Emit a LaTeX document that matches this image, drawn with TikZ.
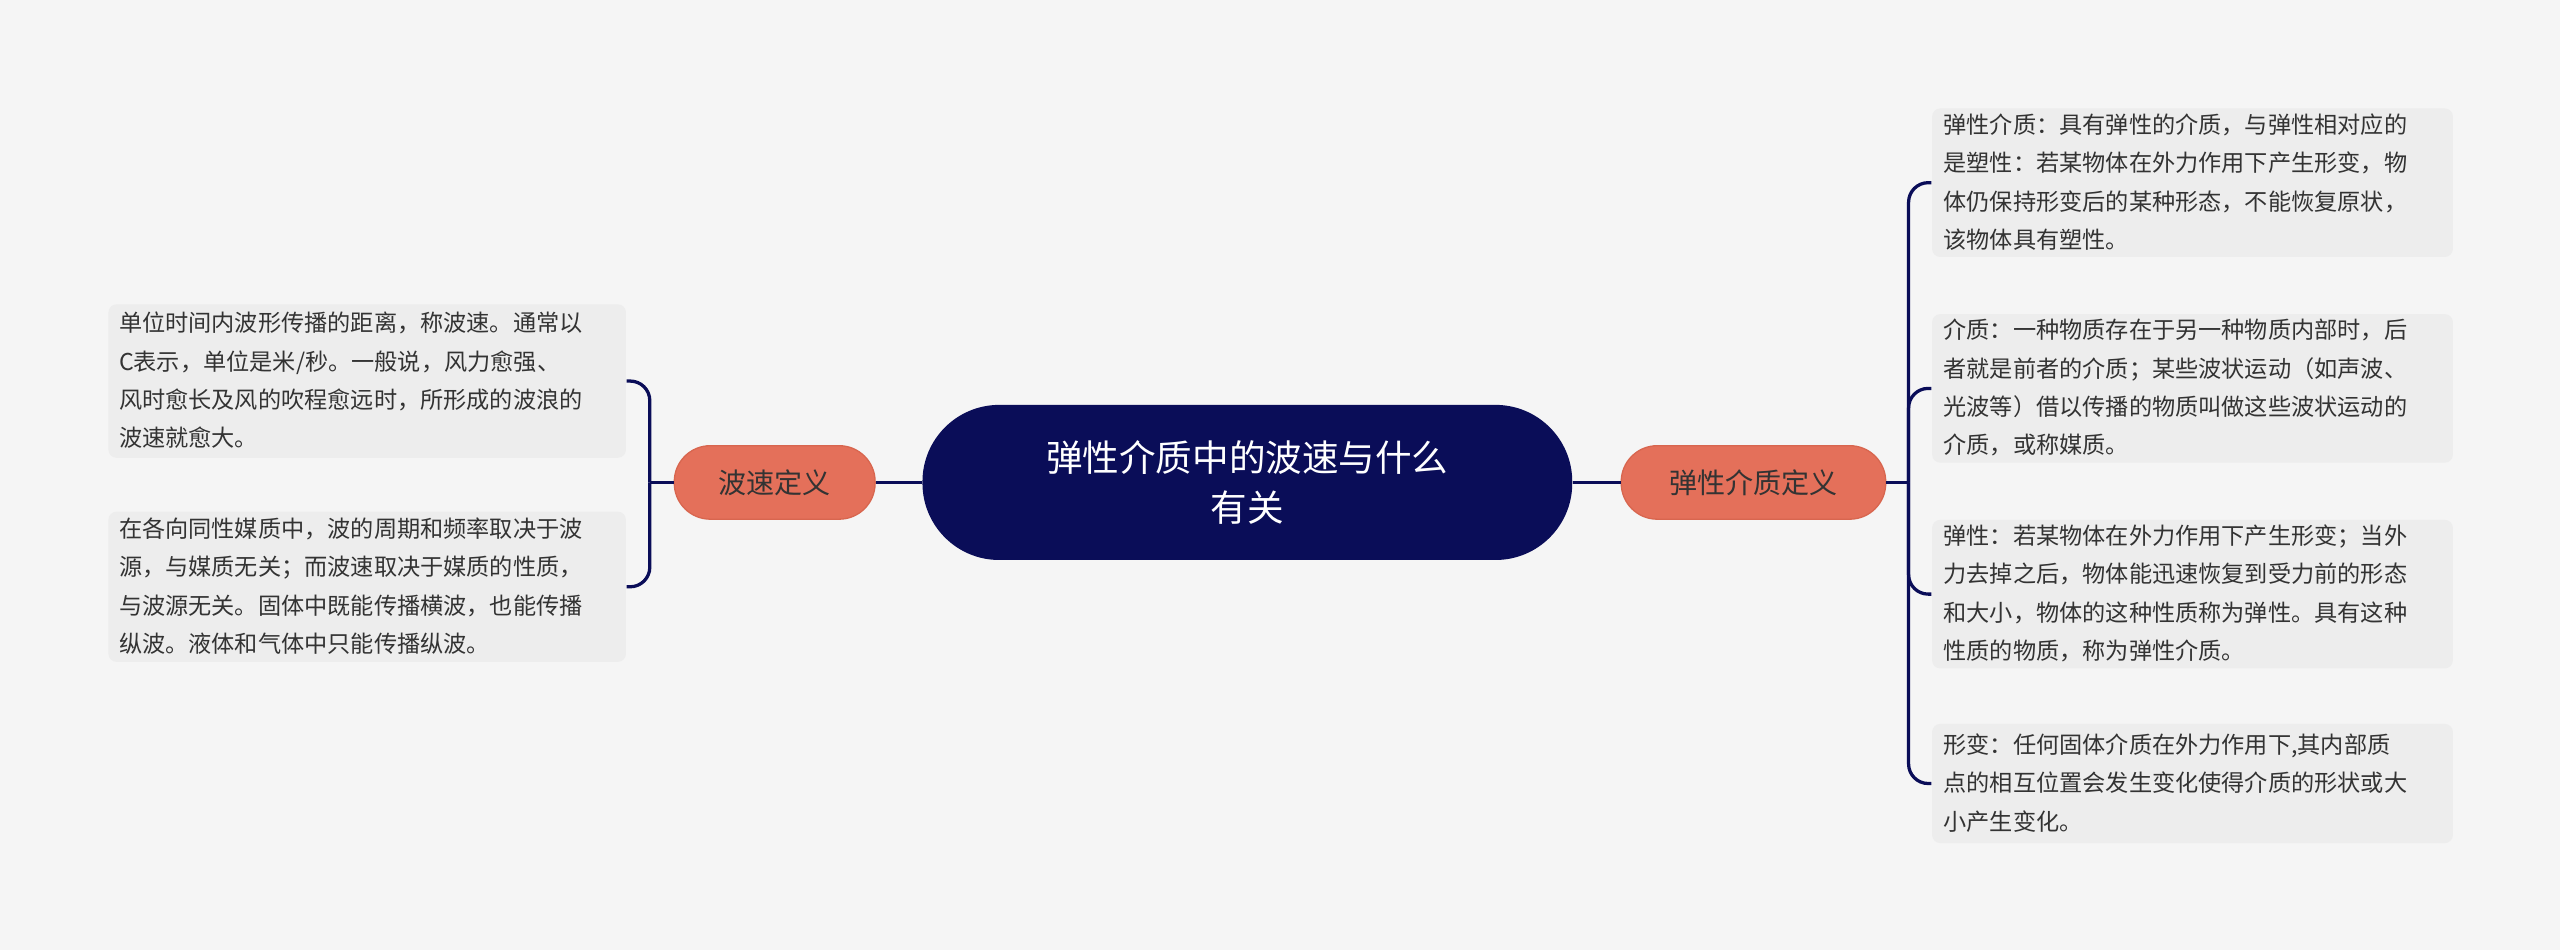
\documentclass[tikz,border=0pt]{standalone}
\usepackage{fontspec}
\setmainfont{Noto Sans CJK SC}
\begin{document}
\begin{tikzpicture}[x=0.5pt,y=-0.5pt,
  leaf/.style={fill=leafc,rounded corners=2.5pt,anchor=north west,align=left,inner sep=0pt,
     font=\fontsize{7.1pt}{11.75pt}\selectfont,text=txt},
  child/.style={fill=childc,draw=childb,line width=0.4pt,rounded corners=11pt,minimum height=22.5pt,font=\fontsize{8.6pt}{10pt}\selectfont,text=txt},
  conn/.style={draw=navy,line width=1pt,rounded corners=6pt}]
\definecolor{bg}{HTML}{F5F5F5}
\definecolor{leafc}{HTML}{EDEDED}
\definecolor{childc}{HTML}{E4705A}
\definecolor{childb}{HTML}{D8664F}
\definecolor{navy}{HTML}{0A0D58}
\definecolor{txt}{HTML}{333333}
\fill[bg] (0,0) rectangle (1568,582);
\useasboundingbox (0,0) rectangle (1568,582);
\node[fill=navy,rounded corners=23.5pt,minimum width=199pt,minimum height=47.5pt,text=white,align=center,
  font=\fontsize{11.2pt}{15.5pt}\selectfont] (c) at (764,295.5) {弹性介质中的波速与什么\\有关};
\node[child,minimum width=61.5pt] (l) at (474.5,295.5) {波速定义};
\node[child,minimum width=81pt] (r) at (1074,295.5) {弹性介质定义};
\draw[conn] (c.west) -- (l.east);
\draw[conn] (c.east) -- (r.east -| r.west);
% left leaves
\node[leaf,minimum width=158.5pt,minimum height=47pt,text width=148.5pt] (l1) at (66,186) {};
\node[leaf,anchor=west,fill=none] at (72.5,233) {单位时间内波形传播的距离，称波速。通常以\\C表示，单位是米/秒。一般说，风力愈强、\\风时愈长及风的吹程愈远时，所形成的波浪的\\波速就愈大。};
\node[leaf,minimum width=158.5pt,minimum height=46pt] (l2) at (66,313) {};
\node[leaf,anchor=west,fill=none] at (72.5,359) {在各向同性媒质中，波的周期和频率取决于波\\源，与媒质无关；而波速取决于媒质的性质，\\与波源无关。固体中既能传播横波，也能传播\\纵波。液体和气体中只能传播纵波。};
\coordinate (lj) at (398,295.5);
\draw[conn] (l.west) -- (lj);
\draw[conn] (lj) |- (l1.east);
\draw[conn] (lj) |- (l2.east);
% right leaves
\node[leaf,minimum width=159.5pt,minimum height=45.5pt] (r1) at (1183,66) {};
\node[leaf,anchor=west,fill=none] at (1190,111.5) {弹性介质：具有弹性的介质，与弹性相对应的\\是塑性：若某物体在外力作用下产生形变，物\\体仍保持形变后的某种形态，不能恢复原状，\\该物体具有塑性。};
\node[leaf,minimum width=159.5pt,minimum height=45.5pt] (r2) at (1183,192) {};
\node[leaf,anchor=west,fill=none] at (1190,237.5) {介质：一种物质存在于另一种物质内部时，后\\者就是前者的介质；某些波状运动（如声波、\\光波等）借以传播的物质叫做这些波状运动的\\介质，或称媒质。};
\node[leaf,minimum width=159.5pt,minimum height=45.5pt] (r3) at (1183,318) {};
\node[leaf,anchor=west,fill=none] at (1190,363.5) {弹性：若某物体在外力作用下产生形变；当外\\力去掉之后，物体能迅速恢复到受力前的形态\\和大小，物体的这种性质称为弹性。具有这种\\性质的物质，称为弹性介质。};
\node[leaf,minimum width=159.5pt,minimum height=36.5pt] (r4) at (1183,443) {};
\node[leaf,anchor=west,fill=none] at (1190,479.5) {形变：任何固体介质在外力作用下,其内部质\\点的相互位置会发生变化使得介质的形状或大\\小产生变化。};
\coordinate (rj) at (1169,295.5);
\draw[conn] (r.east) -- (rj);
\foreach \n in {r1,r2,r3,r4} \draw[conn] (rj) |- (\n.west);
\end{tikzpicture}
\end{document}
